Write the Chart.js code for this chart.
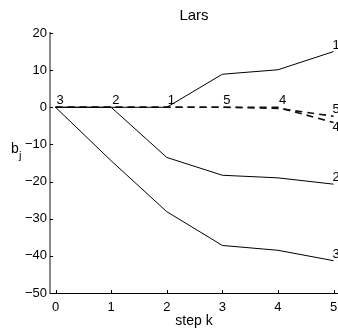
<!DOCTYPE html>
<html>
<head>
<meta charset="utf-8">
<script src="https://cdn.jsdelivr.net/npm/chart.js@4.4.1/dist/chart.umd.min.js"></script>
<style>
  body { margin: 0; background: #fff; }
  #wrap { width: 338px; height: 333px; position: relative; }
</style>
</head>
<body>
<div id="wrap"><canvas id="larsChart"></canvas></div>
<script>
// LARS coefficient paths
const steps = [0, 1, 2, 3, 4, 5];
const coef1 = [0, 0, 0, 8.9, 10.1, 15.0];
const coef2 = [0, 0, -13.5, -18.3, -19.0, -20.7];
const coef3 = [0, -14.4, -28.1, -37.2, -38.5, -41.3];
const coef4 = [0, 0, 0, 0, 0, -4.1];
const coef5 = [0, 0, 0, 0, -0.3, -2.4];
const varNames = ["1", "2", "3", "4", "5"];
const entryStep = [2, 1, 0, 4, 3];
const yTicks = [20, 10, 0, -10, -20, -30, -40, -50];
const xTicks = [0, 1, 2, 3, 4, 5];

const allCoefs = [coef1, coef2, coef3, coef4, coef5];
const dashed = [false, false, false, true, true];

const FONT = '"Liberation Sans", Arial, sans-serif';

function toPoints(vals) {
    return steps.map((s, i) => ({ x: s, y: vals[i] }));
}

const textPlugin = {
    id: "larsText",
    afterDraw(chart) {
        const { ctx, chartArea } = chart;
        const x = chart.scales.x;
        const y = chart.scales.y;
        ctx.save();
        ctx.fillStyle = "#000";
        ctx.strokeStyle = "#000";
        ctx.lineWidth = 1;

        // small inward tick marks
        yTicks.forEach((v) => {
            const py = Math.round(y.getPixelForValue(v)) + 0.5;
            ctx.beginPath();
            ctx.moveTo(chartArea.left, py);
            ctx.lineTo(chartArea.left + 3, py);
            ctx.stroke();
        });
        xTicks.forEach((v) => {
            const px = Math.round(x.getPixelForValue(v)) + 0.5;
            ctx.beginPath();
            ctx.moveTo(px, chartArea.bottom);
            ctx.lineTo(px, chartArea.bottom - 3);
            ctx.stroke();
        });

        // title and axis labels
        const midX = (chartArea.left + chartArea.right) / 2;
        ctx.textAlign = "center";
        ctx.textBaseline = "alphabetic";
        ctx.font = "15px " + FONT;
        ctx.fillText("Lars", midX, 20);
        ctx.font = "14px " + FONT;
        ctx.fillText("step k", midX, 325);
        ctx.textAlign = "left";
        ctx.fillText("b", 11, 153);
        ctx.font = "11px " + FONT;
        ctx.fillText("j", 19, 159);

        // variable numbers at entry step and at the end
        ctx.font = "13px " + FONT;
        allCoefs.forEach((vals, i) => {
            const e = entryStep[i];
            const ex = x.getPixelForValue(steps[e]);
            const ey = y.getPixelForValue(vals[e]);
            ctx.textBaseline = "alphabetic";
            ctx.fillText(varNames[i], ex + 1, ey - 3);

            const last = steps.length - 1;
            const lx = x.getPixelForValue(steps[last]);
            const ly = y.getPixelForValue(vals[last]);
            if (i === 3) {
                ctx.textBaseline = "top";
                ctx.fillText(varNames[i], lx - 1, ly - 2);
            } else {
                ctx.textBaseline = "alphabetic";
                ctx.fillText(varNames[i], lx - 1, ly - 3);
            }
        });
        ctx.restore();
    },
};

const ctx = document.getElementById("larsChart").getContext("2d");
const larsChart = new Chart(ctx, {
    type: "line",
    data: {
        datasets: allCoefs.map((vals, i) => ({
            label: "b" + varNames[i],
            data: toPoints(vals),
            borderColor: dashed[i] ? "#111" : "#000",
            borderWidth: dashed[i] ? 1.6 : 1,
            borderDash: dashed[i] ? [7, 5] : [],
            pointRadius: 0,
            tension: 0,
            fill: false,
        })),
    },
    options: {
        responsive: true,
        maintainAspectRatio: false,
        animation: false,
        layout: {
            padding: { top: 33, left: 0, right: 0, bottom: 0 },
        },
        plugins: {
            legend: { display: false },
            tooltip: { enabled: false },
        },
        scales: {
            x: {
                type: "linear",
                min: -0.1,
                max: 5.08,
                afterFit: (scale) => {
                    scale.height = 40;
                    scale.paddingLeft = 0;
                    scale.paddingRight = 0;
                },
                afterBuildTicks: (scale) => { scale.ticks = xTicks.map((v) => ({ value: v })); },
                grid: { display: false, drawTicks: false },
                border: { color: "#000", width: 1 },
                ticks: {
                    color: "#000",
                    padding: 7,
                    font: { size: 13, family: FONT },
                    maxRotation: 0,
                },
            },
            y: {
                min: -50,
                max: 20,
                afterFit: (scale) => {
                    scale.width = 50;
                    scale.paddingTop = 0;
                    scale.paddingBottom = 0;
                },
                afterBuildTicks: (scale) => { scale.ticks = yTicks.map((v) => ({ value: v })); },
                grid: { display: false, drawTicks: false },
                border: { color: "#888", width: 2 },
                ticks: {
                    color: "#000",
                    padding: 3,
                    font: { size: 13, family: FONT },
                    callback: (v) => String(v).replace("-", "\u2212"),
                },
            },
        },
    },
    plugins: [textPlugin],
});
</script>
</body>
</html>
